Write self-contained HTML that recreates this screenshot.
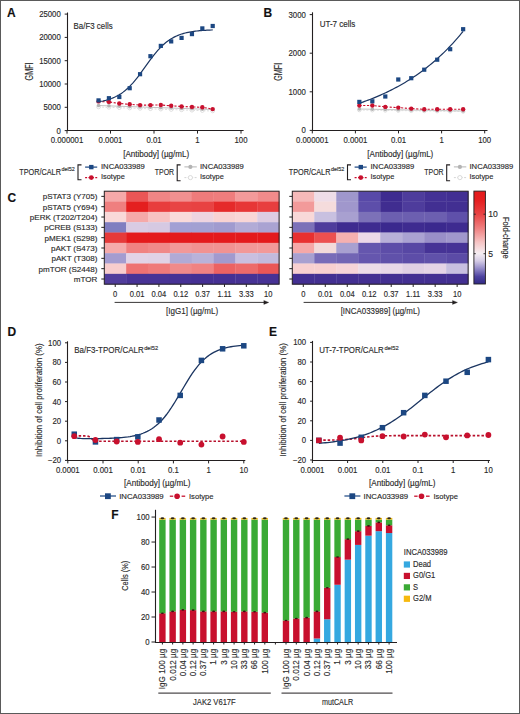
<!DOCTYPE html>
<html><head><meta charset="utf-8"><style>
html,body{margin:0;padding:0;background:#fff;overflow:hidden;}
svg{display:block;}
text{font-family:"Liberation Sans", sans-serif;stroke:#2a2a2a;stroke-width:0.14px;}
</style></head><body>
<svg width="520" height="714" viewBox="0 0 520 714" fill="#2a2a2a">
<rect x="0.5" y="0.5" width="519" height="713" fill="#fff" stroke="#5a5a5a" stroke-width="1"/>
<text x="7.00" y="16.80" font-size="12" font-weight="bold" fill="#111">A</text>
<line x1="67.50" y1="12.50" x2="67.50" y2="131.00" stroke="#231f20" stroke-width="1.1"/>
<line x1="67.00" y1="130.50" x2="243.60" y2="130.50" stroke="#231f20" stroke-width="1.1"/>
<line x1="64.70" y1="130.60" x2="67.50" y2="130.60" stroke="#231f20" stroke-width="1"/>
<text x="60.80" y="133.50" font-size="8.2" text-anchor="end" textLength="4.33" lengthAdjust="spacingAndGlyphs">0</text>
<line x1="64.70" y1="107.30" x2="67.50" y2="107.30" stroke="#231f20" stroke-width="1"/>
<text x="60.80" y="110.20" font-size="8.2" text-anchor="end" textLength="17.33" lengthAdjust="spacingAndGlyphs">5000</text>
<line x1="64.70" y1="84.00" x2="67.50" y2="84.00" stroke="#231f20" stroke-width="1"/>
<text x="60.80" y="86.90" font-size="8.2" text-anchor="end" textLength="21.66" lengthAdjust="spacingAndGlyphs">10000</text>
<line x1="64.70" y1="60.70" x2="67.50" y2="60.70" stroke="#231f20" stroke-width="1"/>
<text x="60.80" y="63.60" font-size="8.2" text-anchor="end" textLength="21.66" lengthAdjust="spacingAndGlyphs">15000</text>
<line x1="64.70" y1="37.40" x2="67.50" y2="37.40" stroke="#231f20" stroke-width="1"/>
<text x="60.80" y="40.30" font-size="8.2" text-anchor="end" textLength="21.66" lengthAdjust="spacingAndGlyphs">20000</text>
<line x1="64.70" y1="14.10" x2="67.50" y2="14.10" stroke="#231f20" stroke-width="1"/>
<text x="60.80" y="17.00" font-size="8.2" text-anchor="end" textLength="21.66" lengthAdjust="spacingAndGlyphs">25000</text>
<line x1="67.00" y1="130.60" x2="67.00" y2="133.60" stroke="#231f20" stroke-width="1"/>
<text x="67.00" y="143.40" font-size="8.2" text-anchor="middle" textLength="32.49" lengthAdjust="spacingAndGlyphs">0.000001</text>
<line x1="110.50" y1="130.60" x2="110.50" y2="133.60" stroke="#231f20" stroke-width="1"/>
<text x="110.50" y="143.40" font-size="8.2" text-anchor="middle" textLength="23.82" lengthAdjust="spacingAndGlyphs">0.0001</text>
<line x1="154.00" y1="130.60" x2="154.00" y2="133.60" stroke="#231f20" stroke-width="1"/>
<text x="154.00" y="143.40" font-size="8.2" text-anchor="middle" textLength="15.16" lengthAdjust="spacingAndGlyphs">0.01</text>
<line x1="197.50" y1="130.60" x2="197.50" y2="133.60" stroke="#231f20" stroke-width="1"/>
<text x="197.50" y="143.40" font-size="8.2" text-anchor="middle" textLength="4.33" lengthAdjust="spacingAndGlyphs">1</text>
<line x1="241.00" y1="130.60" x2="241.00" y2="133.60" stroke="#231f20" stroke-width="1"/>
<text x="241.00" y="143.40" font-size="8.2" text-anchor="middle" textLength="13.00" lengthAdjust="spacingAndGlyphs">100</text>
<text x="156.20" y="156.90" font-size="8.6" text-anchor="middle" textLength="66.00" lengthAdjust="spacingAndGlyphs">[Antibody] (µg/mL)</text>
<text x="33.30" y="71.40" font-size="10" text-anchor="middle" textLength="18.00" lengthAdjust="spacingAndGlyphs" transform="rotate(-90 33.30 71.40)">GMFI</text>
<text x="73.60" y="29.30" font-size="9.0" textLength="39.00" lengthAdjust="spacingAndGlyphs">Ba/F3 cells</text>
<path d="M98.55,105.50 L108.93,105.86 L119.31,106.23 L129.68,106.59 L140.06,106.95 L150.44,107.32 L160.82,107.68 L171.19,108.05 L181.57,108.41 L191.95,108.77 L202.33,109.14 L212.70,109.50" stroke="#b4b4b4" stroke-width="0.8" fill="none"/>
<path d="M98.55,107.00 L108.93,107.36 L119.31,107.73 L129.68,108.09 L140.06,108.45 L150.44,108.82 L160.82,109.18 L171.19,109.55 L181.57,109.91 L191.95,110.27 L202.33,110.64 L212.70,111.00" stroke="#d6d6d6" stroke-width="0.8" fill="none" stroke-dasharray="2,1.5"/>
<circle cx="98.55" cy="107.00" r="1.80" fill="#fff" stroke="#d6d6d6" stroke-width="0.8"/>
<circle cx="108.93" cy="107.36" r="1.80" fill="#fff" stroke="#d6d6d6" stroke-width="0.8"/>
<circle cx="119.31" cy="107.73" r="1.80" fill="#fff" stroke="#d6d6d6" stroke-width="0.8"/>
<circle cx="129.68" cy="108.09" r="1.80" fill="#fff" stroke="#d6d6d6" stroke-width="0.8"/>
<circle cx="140.06" cy="108.45" r="1.80" fill="#fff" stroke="#d6d6d6" stroke-width="0.8"/>
<circle cx="150.44" cy="108.82" r="1.80" fill="#fff" stroke="#d6d6d6" stroke-width="0.8"/>
<circle cx="160.82" cy="109.18" r="1.80" fill="#fff" stroke="#d6d6d6" stroke-width="0.8"/>
<circle cx="171.19" cy="109.55" r="1.80" fill="#fff" stroke="#d6d6d6" stroke-width="0.8"/>
<circle cx="181.57" cy="109.91" r="1.80" fill="#fff" stroke="#d6d6d6" stroke-width="0.8"/>
<circle cx="191.95" cy="110.27" r="1.80" fill="#fff" stroke="#d6d6d6" stroke-width="0.8"/>
<circle cx="202.33" cy="110.64" r="1.80" fill="#fff" stroke="#d6d6d6" stroke-width="0.8"/>
<circle cx="212.70" cy="111.00" r="1.80" fill="#fff" stroke="#d6d6d6" stroke-width="0.8"/>
<circle cx="98.55" cy="105.50" r="1.80" fill="#b4b4b4"/>
<circle cx="108.93" cy="105.86" r="1.80" fill="#b4b4b4"/>
<circle cx="119.31" cy="106.23" r="1.80" fill="#b4b4b4"/>
<circle cx="129.68" cy="106.59" r="1.80" fill="#b4b4b4"/>
<circle cx="140.06" cy="106.95" r="1.80" fill="#b4b4b4"/>
<circle cx="150.44" cy="107.32" r="1.80" fill="#b4b4b4"/>
<circle cx="160.82" cy="107.68" r="1.80" fill="#b4b4b4"/>
<circle cx="171.19" cy="108.05" r="1.80" fill="#b4b4b4"/>
<circle cx="181.57" cy="108.41" r="1.80" fill="#b4b4b4"/>
<circle cx="191.95" cy="108.77" r="1.80" fill="#b4b4b4"/>
<circle cx="202.33" cy="109.14" r="1.80" fill="#b4b4b4"/>
<circle cx="212.70" cy="109.50" r="1.80" fill="#b4b4b4"/>
<path d="M98.55,101.40 L108.93,101.90 L119.31,103.50 L129.68,104.30 L140.06,105.10 L150.44,105.10 L160.82,105.00 L171.19,105.80 L181.57,106.50 L191.95,106.90 L202.33,107.30 L212.70,109.10" stroke="#c8102e" stroke-width="1.1" fill="none" stroke-dasharray="2.2,1.6"/>
<circle cx="98.55" cy="101.40" r="2.20" fill="#c8102e"/>
<circle cx="108.93" cy="101.90" r="2.20" fill="#c8102e"/>
<circle cx="119.31" cy="103.50" r="2.20" fill="#c8102e"/>
<circle cx="129.68" cy="104.30" r="2.20" fill="#c8102e"/>
<circle cx="140.06" cy="105.10" r="2.20" fill="#c8102e"/>
<circle cx="150.44" cy="105.10" r="2.20" fill="#c8102e"/>
<circle cx="160.82" cy="105.00" r="2.20" fill="#c8102e"/>
<circle cx="171.19" cy="105.80" r="2.20" fill="#c8102e"/>
<circle cx="181.57" cy="106.50" r="2.20" fill="#c8102e"/>
<circle cx="191.95" cy="106.90" r="2.20" fill="#c8102e"/>
<circle cx="202.33" cy="107.30" r="2.20" fill="#c8102e"/>
<circle cx="212.70" cy="109.10" r="2.20" fill="#c8102e"/>
<path d="M98.55,101.77 L100.00,101.53 L101.44,101.27 L102.89,100.98 L104.33,100.65 L105.78,100.30 L107.22,99.91 L108.67,99.47 L110.11,99.00 L111.56,98.47 L113.00,97.90 L114.45,97.27 L115.89,96.58 L117.34,95.83 L118.78,95.02 L120.23,94.13 L121.67,93.17 L123.12,92.13 L124.56,91.01 L126.01,89.81 L127.45,88.52 L128.90,87.15 L130.34,85.70 L131.79,84.16 L133.23,82.55 L134.68,80.85 L136.12,79.09 L137.57,77.26 L139.01,75.37 L140.45,73.44 L141.90,71.46 L143.34,69.46 L144.79,67.44 L146.23,65.42 L147.68,63.40 L149.12,61.41 L150.57,59.44 L152.01,57.52 L153.46,55.64 L154.90,53.83 L156.35,52.08 L157.79,50.41 L159.24,48.81 L160.68,47.30 L162.13,45.87 L163.57,44.52 L165.02,43.26 L166.46,42.08 L167.91,40.98 L169.35,39.96 L170.80,39.02 L172.24,38.15 L173.69,37.36 L175.13,36.62 L176.58,35.95 L178.02,35.34 L179.47,34.78 L180.91,34.27 L182.36,33.80 L183.80,33.38 L185.25,33.00 L186.69,32.65 L188.14,32.34 L189.58,32.05 L191.03,31.80 L192.47,31.57 L193.92,31.36 L195.36,31.17 L196.81,31.00 L198.25,30.84 L199.70,30.71 L201.14,30.58 L202.59,30.47 L204.03,30.37 L205.48,30.28 L206.92,30.20 L208.37,30.13 L209.81,30.06 L211.26,30.00 L212.70,29.95" stroke="#1b3561" stroke-width="1.2" fill="none"/>
<rect x="96.45" y="98.30" width="4.20" height="4.20" fill="#1c4782"/>
<rect x="106.83" y="96.10" width="4.20" height="4.20" fill="#1c4782"/>
<rect x="117.21" y="94.90" width="4.20" height="4.20" fill="#1c4782"/>
<rect x="127.58" y="86.10" width="4.20" height="4.20" fill="#1c4782"/>
<rect x="137.96" y="72.10" width="4.20" height="4.20" fill="#1c4782"/>
<rect x="148.34" y="54.10" width="4.20" height="4.20" fill="#1c4782"/>
<rect x="158.72" y="43.80" width="4.20" height="4.20" fill="#1c4782"/>
<rect x="169.09" y="39.30" width="4.20" height="4.20" fill="#1c4782"/>
<rect x="179.47" y="35.80" width="4.20" height="4.20" fill="#1c4782"/>
<rect x="189.85" y="32.00" width="4.20" height="4.20" fill="#1c4782"/>
<rect x="200.23" y="26.30" width="4.20" height="4.20" fill="#1c4782"/>
<rect x="210.60" y="23.90" width="4.20" height="4.20" fill="#1c4782"/>
<text x="19.30" y="175.30" font-size="8.7" textLength="41.60" lengthAdjust="spacingAndGlyphs">TPOR/CALR</text>
<text x="61.40" y="171.20" font-size="5.5" textLength="13.30" lengthAdjust="spacingAndGlyphs">del52</text>
<path d="M81.50,164.9 L78.00,164.9 L78.00,179.7 L81.50,179.7" stroke="#231f20" stroke-width="1.1" fill="none"/>
<line x1="85.10" y1="167.10" x2="97.20" y2="167.10" stroke="#1c4782" stroke-width="1.2"/>
<rect x="89.10" y="164.90" width="4.40" height="4.40" fill="#1c4782"/>
<line x1="85.10" y1="177.60" x2="97.20" y2="177.60" stroke="#c8102e" stroke-width="1.1" stroke-dasharray="2,1.4"/>
<circle cx="91.30" cy="177.60" r="2.40" fill="#c8102e"/>
<text x="101.00" y="169.10" font-size="7.6" textLength="43.70" lengthAdjust="spacingAndGlyphs">INCA033989</text>
<text x="101.00" y="179.20" font-size="7.6" textLength="23.80" lengthAdjust="spacingAndGlyphs">Isotype</text>
<text x="154.80" y="175.20" font-size="8.5" textLength="19.30" lengthAdjust="spacingAndGlyphs">TPOR</text>
<path d="M180.60,164.9 L177.20,164.9 L177.20,180.7 L180.60,180.7" stroke="#231f20" stroke-width="1.1" fill="none"/>
<line x1="184.40" y1="166.90" x2="196.80" y2="166.90" stroke="#b4b4b4" stroke-width="1.0"/>
<circle cx="190.40" cy="166.90" r="2.10" fill="#b4b4b4"/>
<line x1="184.40" y1="177.60" x2="196.80" y2="177.60" stroke="#d6d6d6" stroke-width="1.0" stroke-dasharray="2,1.4"/>
<circle cx="190.40" cy="177.60" r="2.10" fill="#fff" stroke="#d6d6d6" stroke-width="0.9"/>
<text x="200.00" y="169.10" font-size="7.6" textLength="43.70" lengthAdjust="spacingAndGlyphs">INCA033989</text>
<text x="200.00" y="179.20" font-size="7.6" textLength="23.80" lengthAdjust="spacingAndGlyphs">Isotype</text>
<text x="263.50" y="16.80" font-size="12" font-weight="bold" fill="#111">B</text>
<line x1="312.50" y1="12.30" x2="312.50" y2="131.00" stroke="#231f20" stroke-width="1.1"/>
<line x1="312.00" y1="130.50" x2="487.50" y2="130.50" stroke="#231f20" stroke-width="1.1"/>
<line x1="309.70" y1="130.40" x2="312.50" y2="130.40" stroke="#231f20" stroke-width="1"/>
<text x="305.80" y="133.30" font-size="8.2" text-anchor="end" textLength="4.33" lengthAdjust="spacingAndGlyphs">0</text>
<line x1="309.70" y1="91.80" x2="312.50" y2="91.80" stroke="#231f20" stroke-width="1"/>
<text x="305.80" y="94.70" font-size="8.2" text-anchor="end" textLength="17.33" lengthAdjust="spacingAndGlyphs">1000</text>
<line x1="309.70" y1="53.20" x2="312.50" y2="53.20" stroke="#231f20" stroke-width="1"/>
<text x="305.80" y="56.10" font-size="8.2" text-anchor="end" textLength="17.33" lengthAdjust="spacingAndGlyphs">2000</text>
<line x1="309.70" y1="14.60" x2="312.50" y2="14.60" stroke="#231f20" stroke-width="1"/>
<text x="305.80" y="17.50" font-size="8.2" text-anchor="end" textLength="17.33" lengthAdjust="spacingAndGlyphs">3000</text>
<line x1="312.30" y1="130.40" x2="312.30" y2="133.40" stroke="#231f20" stroke-width="1"/>
<text x="312.30" y="143.40" font-size="8.2" text-anchor="middle" textLength="32.49" lengthAdjust="spacingAndGlyphs">0.000001</text>
<line x1="355.40" y1="130.40" x2="355.40" y2="133.40" stroke="#231f20" stroke-width="1"/>
<text x="355.40" y="143.40" font-size="8.2" text-anchor="middle" textLength="23.82" lengthAdjust="spacingAndGlyphs">0.0001</text>
<line x1="398.50" y1="130.40" x2="398.50" y2="133.40" stroke="#231f20" stroke-width="1"/>
<text x="398.50" y="143.40" font-size="8.2" text-anchor="middle" textLength="15.16" lengthAdjust="spacingAndGlyphs">0.01</text>
<line x1="441.60" y1="130.40" x2="441.60" y2="133.40" stroke="#231f20" stroke-width="1"/>
<text x="441.60" y="143.40" font-size="8.2" text-anchor="middle" textLength="4.33" lengthAdjust="spacingAndGlyphs">1</text>
<line x1="484.70" y1="130.40" x2="484.70" y2="133.40" stroke="#231f20" stroke-width="1"/>
<text x="484.70" y="143.40" font-size="8.2" text-anchor="middle" textLength="13.00" lengthAdjust="spacingAndGlyphs">100</text>
<text x="400.30" y="156.90" font-size="8.6" text-anchor="middle" textLength="66.00" lengthAdjust="spacingAndGlyphs">[Antibody] (µg/mL)</text>
<text x="282.40" y="71.80" font-size="10" text-anchor="middle" textLength="18.00" lengthAdjust="spacingAndGlyphs" transform="rotate(-90 282.40 71.80)">GMFI</text>
<text x="319.70" y="26.50" font-size="9.0" textLength="35.70" lengthAdjust="spacingAndGlyphs">UT-7 cells</text>
<path d="M359.35,109.00 L372.33,109.25 L385.30,109.50 L398.28,109.75 L411.25,110.00 L424.23,110.25 L437.20,110.50 L450.18,110.75 L463.15,111.00" stroke="#b4b4b4" stroke-width="0.8" fill="none"/>
<path d="M359.35,110.00 L372.33,110.19 L385.30,110.38 L398.28,110.56 L411.25,110.75 L424.23,110.94 L437.20,111.12 L450.18,111.31 L463.15,111.50" stroke="#d6d6d6" stroke-width="0.8" fill="none" stroke-dasharray="2,1.5"/>
<circle cx="359.35" cy="110.00" r="1.80" fill="#fff" stroke="#d6d6d6" stroke-width="0.8"/>
<circle cx="372.33" cy="110.19" r="1.80" fill="#fff" stroke="#d6d6d6" stroke-width="0.8"/>
<circle cx="385.30" cy="110.38" r="1.80" fill="#fff" stroke="#d6d6d6" stroke-width="0.8"/>
<circle cx="398.28" cy="110.56" r="1.80" fill="#fff" stroke="#d6d6d6" stroke-width="0.8"/>
<circle cx="411.25" cy="110.75" r="1.80" fill="#fff" stroke="#d6d6d6" stroke-width="0.8"/>
<circle cx="424.23" cy="110.94" r="1.80" fill="#fff" stroke="#d6d6d6" stroke-width="0.8"/>
<circle cx="437.20" cy="111.12" r="1.80" fill="#fff" stroke="#d6d6d6" stroke-width="0.8"/>
<circle cx="450.18" cy="111.31" r="1.80" fill="#fff" stroke="#d6d6d6" stroke-width="0.8"/>
<circle cx="463.15" cy="111.50" r="1.80" fill="#fff" stroke="#d6d6d6" stroke-width="0.8"/>
<circle cx="359.35" cy="109.00" r="1.80" fill="#b4b4b4"/>
<circle cx="372.33" cy="109.25" r="1.80" fill="#b4b4b4"/>
<circle cx="385.30" cy="109.50" r="1.80" fill="#b4b4b4"/>
<circle cx="398.28" cy="109.75" r="1.80" fill="#b4b4b4"/>
<circle cx="411.25" cy="110.00" r="1.80" fill="#b4b4b4"/>
<circle cx="424.23" cy="110.25" r="1.80" fill="#b4b4b4"/>
<circle cx="437.20" cy="110.50" r="1.80" fill="#b4b4b4"/>
<circle cx="450.18" cy="110.75" r="1.80" fill="#b4b4b4"/>
<circle cx="463.15" cy="111.00" r="1.80" fill="#b4b4b4"/>
<path d="M359.35,105.50 L372.33,105.50 L385.30,106.90 L398.28,107.60 L411.25,108.60 L424.23,109.30 L437.20,109.30 L450.18,109.30 L463.15,109.30" stroke="#c8102e" stroke-width="1.1" fill="none" stroke-dasharray="2.2,1.6"/>
<circle cx="359.35" cy="105.50" r="2.20" fill="#c8102e"/>
<circle cx="372.33" cy="105.50" r="2.20" fill="#c8102e"/>
<circle cx="385.30" cy="106.90" r="2.20" fill="#c8102e"/>
<circle cx="398.28" cy="107.60" r="2.20" fill="#c8102e"/>
<circle cx="411.25" cy="108.60" r="2.20" fill="#c8102e"/>
<circle cx="424.23" cy="109.30" r="2.20" fill="#c8102e"/>
<circle cx="437.20" cy="109.30" r="2.20" fill="#c8102e"/>
<circle cx="450.18" cy="109.30" r="2.20" fill="#c8102e"/>
<circle cx="463.15" cy="109.30" r="2.20" fill="#c8102e"/>
<path d="M359.35,103.27 L361.11,102.67 L362.87,102.06 L364.63,101.43 L366.39,100.78 L368.15,100.13 L369.91,99.45 L371.67,98.77 L373.43,98.07 L375.19,97.35 L376.95,96.62 L378.71,95.87 L380.47,95.10 L382.22,94.32 L383.98,93.51 L385.74,92.70 L387.50,91.86 L389.26,91.00 L391.02,90.13 L392.78,89.24 L394.54,88.32 L396.30,87.39 L398.06,86.43 L399.82,85.46 L401.58,84.46 L403.34,83.44 L405.10,82.40 L406.85,81.33 L408.61,80.24 L410.37,79.13 L412.13,77.99 L413.89,76.83 L415.65,75.64 L417.41,74.42 L419.17,73.18 L420.93,71.91 L422.69,70.61 L424.45,69.28 L426.21,67.93 L427.97,66.54 L429.72,65.12 L431.48,63.67 L433.24,62.19 L435.00,60.68 L436.76,59.13 L438.52,57.55 L440.28,55.93 L442.04,54.27 L443.80,52.58 L445.56,50.86 L447.32,49.09 L449.08,47.28 L450.84,45.44 L452.59,43.55 L454.35,41.62 L456.11,39.65 L457.87,37.64 L459.63,35.58 L461.39,33.47 L463.15,31.32" stroke="#1b3561" stroke-width="1.2" fill="none"/>
<rect x="357.25" y="99.80" width="4.20" height="4.20" fill="#1c4782"/>
<rect x="370.23" y="99.20" width="4.20" height="4.20" fill="#1c4782"/>
<rect x="383.20" y="94.40" width="4.20" height="4.20" fill="#1c4782"/>
<rect x="396.18" y="77.40" width="4.20" height="4.20" fill="#1c4782"/>
<rect x="409.15" y="76.10" width="4.20" height="4.20" fill="#1c4782"/>
<rect x="422.13" y="67.60" width="4.20" height="4.20" fill="#1c4782"/>
<rect x="435.10" y="57.60" width="4.20" height="4.20" fill="#1c4782"/>
<rect x="448.08" y="47.10" width="4.20" height="4.20" fill="#1c4782"/>
<rect x="461.05" y="27.10" width="4.20" height="4.20" fill="#1c4782"/>
<text x="288.80" y="175.30" font-size="8.7" textLength="41.60" lengthAdjust="spacingAndGlyphs">TPOR/CALR</text>
<text x="330.90" y="171.20" font-size="5.5" textLength="13.30" lengthAdjust="spacingAndGlyphs">del52</text>
<path d="M351.00,164.9 L347.50,164.9 L347.50,179.7 L351.00,179.7" stroke="#231f20" stroke-width="1.1" fill="none"/>
<line x1="354.60" y1="167.10" x2="366.70" y2="167.10" stroke="#1c4782" stroke-width="1.2"/>
<rect x="358.60" y="164.90" width="4.40" height="4.40" fill="#1c4782"/>
<line x1="354.60" y1="177.60" x2="366.70" y2="177.60" stroke="#c8102e" stroke-width="1.1" stroke-dasharray="2,1.4"/>
<circle cx="360.80" cy="177.60" r="2.40" fill="#c8102e"/>
<text x="370.50" y="169.10" font-size="7.6" textLength="43.70" lengthAdjust="spacingAndGlyphs">INCA033989</text>
<text x="370.50" y="179.20" font-size="7.6" textLength="23.80" lengthAdjust="spacingAndGlyphs">Isotype</text>
<text x="424.30" y="175.20" font-size="8.5" textLength="19.30" lengthAdjust="spacingAndGlyphs">TPOR</text>
<path d="M450.10,164.9 L446.70,164.9 L446.70,180.7 L450.10,180.7" stroke="#231f20" stroke-width="1.1" fill="none"/>
<line x1="453.90" y1="166.90" x2="466.30" y2="166.90" stroke="#b4b4b4" stroke-width="1.0"/>
<circle cx="459.90" cy="166.90" r="2.10" fill="#b4b4b4"/>
<line x1="453.90" y1="177.60" x2="466.30" y2="177.60" stroke="#d6d6d6" stroke-width="1.0" stroke-dasharray="2,1.4"/>
<circle cx="459.90" cy="177.60" r="2.10" fill="#fff" stroke="#d6d6d6" stroke-width="0.9"/>
<text x="469.50" y="169.10" font-size="7.6" textLength="43.70" lengthAdjust="spacingAndGlyphs">INCA033989</text>
<text x="469.50" y="179.20" font-size="7.6" textLength="23.80" lengthAdjust="spacingAndGlyphs">Isotype</text>
<text x="7.50" y="202.20" font-size="12" font-weight="bold" fill="#111">C</text>
<text x="97.40" y="199.26" font-size="8.05" text-anchor="end">pSTAT3 (Y705)</text>
<text x="97.40" y="209.59" font-size="8.05" text-anchor="end">pSTAT5 (Y694)</text>
<text x="97.40" y="219.92" font-size="8.05" text-anchor="end">pERK (T202/T204)</text>
<text x="97.40" y="230.25" font-size="8.05" text-anchor="end">pCREB (S133)</text>
<text x="97.40" y="240.59" font-size="8.05" text-anchor="end">pMEK1 (S298)</text>
<text x="97.40" y="250.91" font-size="8.05" text-anchor="end">pAKT (S473)</text>
<text x="97.40" y="261.24" font-size="8.05" text-anchor="end">pAKT (T308)</text>
<text x="97.40" y="271.57" font-size="8.05" text-anchor="end">pmTOR (S2448)</text>
<text x="97.40" y="281.90" font-size="8.05" text-anchor="end">mTOR</text>
<rect x="104.30" y="191.20" width="22.15" height="10.63" fill="#f5a9a9"/>
<rect x="126.15" y="191.20" width="22.15" height="10.63" fill="#ea5656"/>
<rect x="148.00" y="191.20" width="22.15" height="10.63" fill="#f08585"/>
<rect x="169.85" y="191.20" width="22.15" height="10.63" fill="#f19090"/>
<rect x="191.70" y="191.20" width="22.15" height="10.63" fill="#ee7b7b"/>
<rect x="213.55" y="191.20" width="22.15" height="10.63" fill="#ef7d7d"/>
<rect x="235.40" y="191.20" width="22.15" height="10.63" fill="#f39a9a"/>
<rect x="257.25" y="191.20" width="22.15" height="10.63" fill="#f18b8b"/>
<rect x="104.30" y="201.53" width="22.15" height="10.63" fill="#ef7f7f"/>
<rect x="126.15" y="201.53" width="22.15" height="10.63" fill="#e41f1f"/>
<rect x="148.00" y="201.53" width="22.15" height="10.63" fill="#e83d3d"/>
<rect x="169.85" y="201.53" width="22.15" height="10.63" fill="#e84444"/>
<rect x="191.70" y="201.53" width="22.15" height="10.63" fill="#e84242"/>
<rect x="213.55" y="201.53" width="22.15" height="10.63" fill="#e52a2a"/>
<rect x="235.40" y="201.53" width="22.15" height="10.63" fill="#e73636"/>
<rect x="257.25" y="201.53" width="22.15" height="10.63" fill="#e83e3e"/>
<rect x="104.30" y="211.86" width="22.15" height="10.63" fill="#f9d9d9"/>
<rect x="126.15" y="211.86" width="22.15" height="10.63" fill="#f5a9a9"/>
<rect x="148.00" y="211.86" width="22.15" height="10.63" fill="#f7c2c2"/>
<rect x="169.85" y="211.86" width="22.15" height="10.63" fill="#f9dada"/>
<rect x="191.70" y="211.86" width="22.15" height="10.63" fill="#eed4e0"/>
<rect x="213.55" y="211.86" width="22.15" height="10.63" fill="#f8d2d2"/>
<rect x="235.40" y="211.86" width="22.15" height="10.63" fill="#f9d6d6"/>
<rect x="257.25" y="211.86" width="22.15" height="10.63" fill="#ddcce2"/>
<rect x="104.30" y="222.19" width="22.15" height="10.63" fill="#807ec0"/>
<rect x="126.15" y="222.19" width="22.15" height="10.63" fill="#d9cbe3"/>
<rect x="148.00" y="222.19" width="22.15" height="10.63" fill="#d6c9e2"/>
<rect x="169.85" y="222.19" width="22.15" height="10.63" fill="#a2a0d4"/>
<rect x="191.70" y="222.19" width="22.15" height="10.63" fill="#a2a0d2"/>
<rect x="213.55" y="222.19" width="22.15" height="10.63" fill="#a09bcf"/>
<rect x="235.40" y="222.19" width="22.15" height="10.63" fill="#b2abd6"/>
<rect x="257.25" y="222.19" width="22.15" height="10.63" fill="#aaa3d2"/>
<rect x="104.30" y="232.52" width="22.15" height="10.63" fill="#e63a3a"/>
<rect x="126.15" y="232.52" width="22.15" height="10.63" fill="#e41a1c"/>
<rect x="148.00" y="232.52" width="22.15" height="10.63" fill="#e41a1c"/>
<rect x="169.85" y="232.52" width="22.15" height="10.63" fill="#e41a1c"/>
<rect x="191.70" y="232.52" width="22.15" height="10.63" fill="#e41a1c"/>
<rect x="213.55" y="232.52" width="22.15" height="10.63" fill="#e41a1c"/>
<rect x="235.40" y="232.52" width="22.15" height="10.63" fill="#e41a1c"/>
<rect x="257.25" y="232.52" width="22.15" height="10.63" fill="#e41a1c"/>
<rect x="104.30" y="242.85" width="22.15" height="10.63" fill="#f5aaaa"/>
<rect x="126.15" y="242.85" width="22.15" height="10.63" fill="#f08282"/>
<rect x="148.00" y="242.85" width="22.15" height="10.63" fill="#f08989"/>
<rect x="169.85" y="242.85" width="22.15" height="10.63" fill="#f29898"/>
<rect x="191.70" y="242.85" width="22.15" height="10.63" fill="#f19292"/>
<rect x="213.55" y="242.85" width="22.15" height="10.63" fill="#f19292"/>
<rect x="235.40" y="242.85" width="22.15" height="10.63" fill="#f29898"/>
<rect x="257.25" y="242.85" width="22.15" height="10.63" fill="#f29999"/>
<rect x="104.30" y="253.18" width="22.15" height="10.63" fill="#a49cd0"/>
<rect x="126.15" y="253.18" width="22.15" height="10.63" fill="#e2d3e7"/>
<rect x="148.00" y="253.18" width="22.15" height="10.63" fill="#e0d2e6"/>
<rect x="169.85" y="253.18" width="22.15" height="10.63" fill="#b1aad5"/>
<rect x="191.70" y="253.18" width="22.15" height="10.63" fill="#b9b2d9"/>
<rect x="213.55" y="253.18" width="22.15" height="10.63" fill="#a29ace"/>
<rect x="235.40" y="253.18" width="22.15" height="10.63" fill="#c9bfe0"/>
<rect x="257.25" y="253.18" width="22.15" height="10.63" fill="#c2badd"/>
<rect x="104.30" y="263.51" width="22.15" height="10.63" fill="#f8cdcd"/>
<rect x="126.15" y="263.51" width="22.15" height="10.63" fill="#ee7272"/>
<rect x="148.00" y="263.51" width="22.15" height="10.63" fill="#ef7a7a"/>
<rect x="169.85" y="263.51" width="22.15" height="10.63" fill="#f08a8a"/>
<rect x="191.70" y="263.51" width="22.15" height="10.63" fill="#f08282"/>
<rect x="213.55" y="263.51" width="22.15" height="10.63" fill="#ec6262"/>
<rect x="235.40" y="263.51" width="22.15" height="10.63" fill="#ed6a6a"/>
<rect x="257.25" y="263.51" width="22.15" height="10.63" fill="#ea5656"/>
<rect x="104.30" y="273.84" width="22.15" height="10.63" fill="#513d9c"/>
<rect x="126.15" y="273.84" width="22.15" height="10.63" fill="#483396"/>
<rect x="148.00" y="273.84" width="22.15" height="10.63" fill="#483396"/>
<rect x="169.85" y="273.84" width="22.15" height="10.63" fill="#473295"/>
<rect x="191.70" y="273.84" width="22.15" height="10.63" fill="#453094"/>
<rect x="213.55" y="273.84" width="22.15" height="10.63" fill="#453094"/>
<rect x="235.40" y="273.84" width="22.15" height="10.63" fill="#473295"/>
<rect x="257.25" y="273.84" width="22.15" height="10.63" fill="#473295"/>
<rect x="104.30" y="191.20" width="174.80" height="92.97" fill="none" stroke="#231f20" stroke-width="1"/>
<line x1="101.30" y1="196.36" x2="104.30" y2="196.36" stroke="#231f20" stroke-width="1"/>
<line x1="101.30" y1="206.69" x2="104.30" y2="206.69" stroke="#231f20" stroke-width="1"/>
<line x1="101.30" y1="217.02" x2="104.30" y2="217.02" stroke="#231f20" stroke-width="1"/>
<line x1="101.30" y1="227.35" x2="104.30" y2="227.35" stroke="#231f20" stroke-width="1"/>
<line x1="101.30" y1="237.69" x2="104.30" y2="237.69" stroke="#231f20" stroke-width="1"/>
<line x1="101.30" y1="248.01" x2="104.30" y2="248.01" stroke="#231f20" stroke-width="1"/>
<line x1="101.30" y1="258.34" x2="104.30" y2="258.34" stroke="#231f20" stroke-width="1"/>
<line x1="101.30" y1="268.67" x2="104.30" y2="268.67" stroke="#231f20" stroke-width="1"/>
<line x1="101.30" y1="279.00" x2="104.30" y2="279.00" stroke="#231f20" stroke-width="1"/>
<line x1="115.22" y1="284.17" x2="115.22" y2="286.97" stroke="#231f20" stroke-width="1"/>
<text x="115.22" y="297.30" font-size="8.3" text-anchor="middle" textLength="4.20" lengthAdjust="spacingAndGlyphs">0</text>
<line x1="137.07" y1="284.17" x2="137.07" y2="286.97" stroke="#231f20" stroke-width="1"/>
<text x="137.07" y="297.30" font-size="8.3" text-anchor="middle" textLength="14.70" lengthAdjust="spacingAndGlyphs">0.01</text>
<line x1="158.93" y1="284.17" x2="158.93" y2="286.97" stroke="#231f20" stroke-width="1"/>
<text x="158.93" y="297.30" font-size="8.3" text-anchor="middle" textLength="14.70" lengthAdjust="spacingAndGlyphs">0.04</text>
<line x1="180.78" y1="284.17" x2="180.78" y2="286.97" stroke="#231f20" stroke-width="1"/>
<text x="180.78" y="297.30" font-size="8.3" text-anchor="middle" textLength="14.70" lengthAdjust="spacingAndGlyphs">0.12</text>
<line x1="202.62" y1="284.17" x2="202.62" y2="286.97" stroke="#231f20" stroke-width="1"/>
<text x="202.62" y="297.30" font-size="8.3" text-anchor="middle" textLength="14.70" lengthAdjust="spacingAndGlyphs">0.37</text>
<line x1="224.48" y1="284.17" x2="224.48" y2="286.97" stroke="#231f20" stroke-width="1"/>
<text x="224.48" y="297.30" font-size="8.3" text-anchor="middle" textLength="14.14" lengthAdjust="spacingAndGlyphs">1.11</text>
<line x1="246.32" y1="284.17" x2="246.32" y2="286.97" stroke="#231f20" stroke-width="1"/>
<text x="246.32" y="297.30" font-size="8.3" text-anchor="middle" textLength="14.70" lengthAdjust="spacingAndGlyphs">3.33</text>
<line x1="268.18" y1="284.17" x2="268.18" y2="286.97" stroke="#231f20" stroke-width="1"/>
<text x="268.18" y="297.30" font-size="8.3" text-anchor="middle" textLength="8.40" lengthAdjust="spacingAndGlyphs">10</text>
<line x1="114.60" y1="302.40" x2="265.80" y2="302.40" stroke="#231f20" stroke-width="0.9"/>
<path d="M268.80,302.4 L263.80,300.4 L263.80,304.4 Z" stroke="#231f20" stroke-width="0.3" fill="#231f20"/>
<text x="192.10" y="314.20" font-size="9.4" text-anchor="middle" textLength="52.00" lengthAdjust="spacingAndGlyphs">[IgG1] (µg/mL)</text>
<rect x="292.30" y="191.20" width="22.28" height="10.63" fill="#f5b9b9"/>
<rect x="314.28" y="191.20" width="22.28" height="10.63" fill="#eedde8"/>
<rect x="336.26" y="191.20" width="22.28" height="10.63" fill="#9f97cc"/>
<rect x="358.24" y="191.20" width="22.28" height="10.63" fill="#5849a8"/>
<rect x="380.22" y="191.20" width="22.28" height="10.63" fill="#3e2b90"/>
<rect x="402.20" y="191.20" width="22.28" height="10.63" fill="#4e3c9c"/>
<rect x="424.18" y="191.20" width="22.28" height="10.63" fill="#443195"/>
<rect x="446.16" y="191.20" width="22.28" height="10.63" fill="#422f93"/>
<rect x="292.30" y="201.53" width="22.28" height="10.63" fill="#f29a9a"/>
<rect x="314.28" y="201.53" width="22.28" height="10.63" fill="#f5dcdc"/>
<rect x="336.26" y="201.53" width="22.28" height="10.63" fill="#a097cc"/>
<rect x="358.24" y="201.53" width="22.28" height="10.63" fill="#5d4eaa"/>
<rect x="380.22" y="201.53" width="22.28" height="10.63" fill="#402d90"/>
<rect x="402.20" y="201.53" width="22.28" height="10.63" fill="#4e3c9c"/>
<rect x="424.18" y="201.53" width="22.28" height="10.63" fill="#422f92"/>
<rect x="446.16" y="201.53" width="22.28" height="10.63" fill="#422f92"/>
<rect x="292.30" y="211.86" width="22.28" height="10.63" fill="#f8d8d8"/>
<rect x="314.28" y="211.86" width="22.28" height="10.63" fill="#c8c0e0"/>
<rect x="336.26" y="211.86" width="22.28" height="10.63" fill="#a8a0d0"/>
<rect x="358.24" y="211.86" width="22.28" height="10.63" fill="#7c71b8"/>
<rect x="380.22" y="211.86" width="22.28" height="10.63" fill="#6c5fb0"/>
<rect x="402.20" y="211.86" width="22.28" height="10.63" fill="#6c5fb0"/>
<rect x="424.18" y="211.86" width="22.28" height="10.63" fill="#6c5fb0"/>
<rect x="446.16" y="211.86" width="22.28" height="10.63" fill="#5f50aa"/>
<rect x="292.30" y="222.19" width="22.28" height="10.63" fill="#7c71b8"/>
<rect x="314.28" y="222.19" width="22.28" height="10.63" fill="#4e3c9c"/>
<rect x="336.26" y="222.19" width="22.28" height="10.63" fill="#3e2b90"/>
<rect x="358.24" y="222.19" width="22.28" height="10.63" fill="#3e2b90"/>
<rect x="380.22" y="222.19" width="22.28" height="10.63" fill="#3b298e"/>
<rect x="402.20" y="222.19" width="22.28" height="10.63" fill="#3e2b90"/>
<rect x="424.18" y="222.19" width="22.28" height="10.63" fill="#3b298e"/>
<rect x="446.16" y="222.19" width="22.28" height="10.63" fill="#3e2b90"/>
<rect x="292.30" y="232.52" width="22.28" height="10.63" fill="#e83030"/>
<rect x="314.28" y="232.52" width="22.28" height="10.63" fill="#ec5050"/>
<rect x="336.26" y="232.52" width="22.28" height="10.63" fill="#f5b0b0"/>
<rect x="358.24" y="232.52" width="22.28" height="10.63" fill="#ecd8e8"/>
<rect x="380.22" y="232.52" width="22.28" height="10.63" fill="#b8b0d8"/>
<rect x="402.20" y="232.52" width="22.28" height="10.63" fill="#aaa2d2"/>
<rect x="424.18" y="232.52" width="22.28" height="10.63" fill="#998fc8"/>
<rect x="446.16" y="232.52" width="22.28" height="10.63" fill="#a097cc"/>
<rect x="292.30" y="242.85" width="22.28" height="10.63" fill="#f5a8a8"/>
<rect x="314.28" y="242.85" width="22.28" height="10.63" fill="#f2dada"/>
<rect x="336.26" y="242.85" width="22.28" height="10.63" fill="#a8a0d0"/>
<rect x="358.24" y="242.85" width="22.28" height="10.63" fill="#6556ae"/>
<rect x="380.22" y="242.85" width="22.28" height="10.63" fill="#5d4da8"/>
<rect x="402.20" y="242.85" width="22.28" height="10.63" fill="#5747a4"/>
<rect x="424.18" y="242.85" width="22.28" height="10.63" fill="#463396"/>
<rect x="446.16" y="242.85" width="22.28" height="10.63" fill="#463396"/>
<rect x="292.30" y="253.18" width="22.28" height="10.63" fill="#a8a0d0"/>
<rect x="314.28" y="253.18" width="22.28" height="10.63" fill="#786bb8"/>
<rect x="336.26" y="253.18" width="22.28" height="10.63" fill="#7265b4"/>
<rect x="358.24" y="253.18" width="22.28" height="10.63" fill="#6556ae"/>
<rect x="380.22" y="253.18" width="22.28" height="10.63" fill="#6051aa"/>
<rect x="402.20" y="253.18" width="22.28" height="10.63" fill="#5d4da8"/>
<rect x="424.18" y="253.18" width="22.28" height="10.63" fill="#6051aa"/>
<rect x="446.16" y="253.18" width="22.28" height="10.63" fill="#5b4ba6"/>
<rect x="292.30" y="263.51" width="22.28" height="10.63" fill="#f8d0d0"/>
<rect x="314.28" y="263.51" width="22.28" height="10.63" fill="#f8d0d0"/>
<rect x="336.26" y="263.51" width="22.28" height="10.63" fill="#f6d4d8"/>
<rect x="358.24" y="263.51" width="22.28" height="10.63" fill="#ecdce8"/>
<rect x="380.22" y="263.51" width="22.28" height="10.63" fill="#e8d8e8"/>
<rect x="402.20" y="263.51" width="22.28" height="10.63" fill="#e0d0e4"/>
<rect x="424.18" y="263.51" width="22.28" height="10.63" fill="#e4d4e6"/>
<rect x="446.16" y="263.51" width="22.28" height="10.63" fill="#c8c0e0"/>
<rect x="292.30" y="273.84" width="22.28" height="10.63" fill="#432f92"/>
<rect x="314.28" y="273.84" width="22.28" height="10.63" fill="#432f92"/>
<rect x="336.26" y="273.84" width="22.28" height="10.63" fill="#432f92"/>
<rect x="358.24" y="273.84" width="22.28" height="10.63" fill="#432f92"/>
<rect x="380.22" y="273.84" width="22.28" height="10.63" fill="#432f92"/>
<rect x="402.20" y="273.84" width="22.28" height="10.63" fill="#432f92"/>
<rect x="424.18" y="273.84" width="22.28" height="10.63" fill="#432f92"/>
<rect x="446.16" y="273.84" width="22.28" height="10.63" fill="#432f92"/>
<rect x="292.30" y="191.20" width="175.84" height="92.97" fill="none" stroke="#231f20" stroke-width="1"/>
<line x1="289.30" y1="196.36" x2="292.30" y2="196.36" stroke="#231f20" stroke-width="1"/>
<line x1="289.30" y1="206.69" x2="292.30" y2="206.69" stroke="#231f20" stroke-width="1"/>
<line x1="289.30" y1="217.02" x2="292.30" y2="217.02" stroke="#231f20" stroke-width="1"/>
<line x1="289.30" y1="227.35" x2="292.30" y2="227.35" stroke="#231f20" stroke-width="1"/>
<line x1="289.30" y1="237.69" x2="292.30" y2="237.69" stroke="#231f20" stroke-width="1"/>
<line x1="289.30" y1="248.01" x2="292.30" y2="248.01" stroke="#231f20" stroke-width="1"/>
<line x1="289.30" y1="258.34" x2="292.30" y2="258.34" stroke="#231f20" stroke-width="1"/>
<line x1="289.30" y1="268.67" x2="292.30" y2="268.67" stroke="#231f20" stroke-width="1"/>
<line x1="289.30" y1="279.00" x2="292.30" y2="279.00" stroke="#231f20" stroke-width="1"/>
<line x1="303.29" y1="284.17" x2="303.29" y2="286.97" stroke="#231f20" stroke-width="1"/>
<text x="303.29" y="297.30" font-size="8.3" text-anchor="middle" textLength="4.20" lengthAdjust="spacingAndGlyphs">0</text>
<line x1="325.27" y1="284.17" x2="325.27" y2="286.97" stroke="#231f20" stroke-width="1"/>
<text x="325.27" y="297.30" font-size="8.3" text-anchor="middle" textLength="14.70" lengthAdjust="spacingAndGlyphs">0.01</text>
<line x1="347.25" y1="284.17" x2="347.25" y2="286.97" stroke="#231f20" stroke-width="1"/>
<text x="347.25" y="297.30" font-size="8.3" text-anchor="middle" textLength="14.70" lengthAdjust="spacingAndGlyphs">0.04</text>
<line x1="369.23" y1="284.17" x2="369.23" y2="286.97" stroke="#231f20" stroke-width="1"/>
<text x="369.23" y="297.30" font-size="8.3" text-anchor="middle" textLength="14.70" lengthAdjust="spacingAndGlyphs">0.12</text>
<line x1="391.21" y1="284.17" x2="391.21" y2="286.97" stroke="#231f20" stroke-width="1"/>
<text x="391.21" y="297.30" font-size="8.3" text-anchor="middle" textLength="14.70" lengthAdjust="spacingAndGlyphs">0.37</text>
<line x1="413.19" y1="284.17" x2="413.19" y2="286.97" stroke="#231f20" stroke-width="1"/>
<text x="413.19" y="297.30" font-size="8.3" text-anchor="middle" textLength="14.14" lengthAdjust="spacingAndGlyphs">1.11</text>
<line x1="435.17" y1="284.17" x2="435.17" y2="286.97" stroke="#231f20" stroke-width="1"/>
<text x="435.17" y="297.30" font-size="8.3" text-anchor="middle" textLength="14.70" lengthAdjust="spacingAndGlyphs">3.33</text>
<line x1="457.15" y1="284.17" x2="457.15" y2="286.97" stroke="#231f20" stroke-width="1"/>
<text x="457.15" y="297.30" font-size="8.3" text-anchor="middle" textLength="8.40" lengthAdjust="spacingAndGlyphs">10</text>
<line x1="303.60" y1="302.40" x2="454.50" y2="302.40" stroke="#231f20" stroke-width="0.9"/>
<path d="M457.50,302.4 L452.50,300.4 L452.50,304.4 Z" stroke="#231f20" stroke-width="0.3" fill="#231f20"/>
<text x="380.30" y="314.20" font-size="9.4" text-anchor="middle" textLength="79.30" lengthAdjust="spacingAndGlyphs">[INCA033989] (µg/mL)</text>
<defs><linearGradient id="cb" x1="0" y1="0" x2="0" y2="1">
<stop offset="0" stop-color="#e41a1c"/>
<stop offset="0.1" stop-color="#e51f20"/>
<stop offset="0.25" stop-color="#e84444"/>
<stop offset="0.4" stop-color="#ef8080"/>
<stop offset="0.55" stop-color="#f6c4c4"/>
<stop offset="0.67" stop-color="#f6eef2"/>
<stop offset="0.75" stop-color="#d6cde6"/>
<stop offset="0.84" stop-color="#8f86c6"/>
<stop offset="0.92" stop-color="#4d42a0"/>
<stop offset="1" stop-color="#302984"/>
</linearGradient></defs>
<rect x="473.9" y="191.1" width="11.5" height="92.9" fill="url(#cb)" stroke="#231f20" stroke-width="0.9"/>
<line x1="473.90" y1="214.20" x2="475.80" y2="214.20" stroke="#231f20" stroke-width="0.9"/>
<line x1="483.50" y1="214.20" x2="485.40" y2="214.20" stroke="#231f20" stroke-width="0.9"/>
<text x="488.20" y="217.20" font-size="8.6">10</text>
<line x1="473.90" y1="253.70" x2="475.80" y2="253.70" stroke="#231f20" stroke-width="0.9"/>
<line x1="483.50" y1="253.70" x2="485.40" y2="253.70" stroke="#231f20" stroke-width="0.9"/>
<text x="488.20" y="256.70" font-size="8.6">5</text>
<text x="502.80" y="237.80" font-size="8.8" text-anchor="middle" textLength="41.60" lengthAdjust="spacingAndGlyphs" transform="rotate(90 502.80 237.80)">Fold-change</text>
<text x="7.50" y="335.80" font-size="12" font-weight="bold" fill="#111">D</text>
<line x1="67.50" y1="341.30" x2="67.50" y2="461.00" stroke="#231f20" stroke-width="1.1"/>
<line x1="67.00" y1="460.50" x2="245.30" y2="460.50" stroke="#231f20" stroke-width="1.1"/>
<line x1="65.00" y1="460.40" x2="67.80" y2="460.40" stroke="#231f20" stroke-width="1"/>
<text x="61.10" y="463.30" font-size="8.2" text-anchor="end" textLength="13.21" lengthAdjust="spacingAndGlyphs">−20</text>
<line x1="65.00" y1="440.80" x2="67.80" y2="440.80" stroke="#231f20" stroke-width="1"/>
<text x="61.10" y="443.70" font-size="8.2" text-anchor="end" textLength="4.33" lengthAdjust="spacingAndGlyphs">0</text>
<line x1="65.00" y1="421.20" x2="67.80" y2="421.20" stroke="#231f20" stroke-width="1"/>
<text x="61.10" y="424.10" font-size="8.2" text-anchor="end" textLength="8.66" lengthAdjust="spacingAndGlyphs">20</text>
<line x1="65.00" y1="401.60" x2="67.80" y2="401.60" stroke="#231f20" stroke-width="1"/>
<text x="61.10" y="404.50" font-size="8.2" text-anchor="end" textLength="8.66" lengthAdjust="spacingAndGlyphs">40</text>
<line x1="65.00" y1="382.00" x2="67.80" y2="382.00" stroke="#231f20" stroke-width="1"/>
<text x="61.10" y="384.90" font-size="8.2" text-anchor="end" textLength="8.66" lengthAdjust="spacingAndGlyphs">60</text>
<line x1="65.00" y1="362.40" x2="67.80" y2="362.40" stroke="#231f20" stroke-width="1"/>
<text x="61.10" y="365.30" font-size="8.2" text-anchor="end" textLength="8.66" lengthAdjust="spacingAndGlyphs">80</text>
<line x1="65.00" y1="342.80" x2="67.80" y2="342.80" stroke="#231f20" stroke-width="1"/>
<text x="61.10" y="345.70" font-size="8.2" text-anchor="end" textLength="13.00" lengthAdjust="spacingAndGlyphs">100</text>
<line x1="67.80" y1="460.40" x2="67.80" y2="463.40" stroke="#231f20" stroke-width="1"/>
<text x="67.80" y="472.60" font-size="8.2" text-anchor="middle" textLength="23.82" lengthAdjust="spacingAndGlyphs">0.0001</text>
<line x1="103.00" y1="460.40" x2="103.00" y2="463.40" stroke="#231f20" stroke-width="1"/>
<text x="103.00" y="472.60" font-size="8.2" text-anchor="middle" textLength="19.49" lengthAdjust="spacingAndGlyphs">0.001</text>
<line x1="138.20" y1="460.40" x2="138.20" y2="463.40" stroke="#231f20" stroke-width="1"/>
<text x="138.20" y="472.60" font-size="8.2" text-anchor="middle" textLength="15.16" lengthAdjust="spacingAndGlyphs">0.01</text>
<line x1="173.40" y1="460.40" x2="173.40" y2="463.40" stroke="#231f20" stroke-width="1"/>
<text x="173.40" y="472.60" font-size="8.2" text-anchor="middle" textLength="10.83" lengthAdjust="spacingAndGlyphs">0.1</text>
<line x1="208.60" y1="460.40" x2="208.60" y2="463.40" stroke="#231f20" stroke-width="1"/>
<text x="208.60" y="472.60" font-size="8.2" text-anchor="middle" textLength="4.33" lengthAdjust="spacingAndGlyphs">1</text>
<line x1="243.80" y1="460.40" x2="243.80" y2="463.40" stroke="#231f20" stroke-width="1"/>
<text x="243.80" y="472.60" font-size="8.2" text-anchor="middle" textLength="8.66" lengthAdjust="spacingAndGlyphs">10</text>
<text x="157.20" y="485.60" font-size="8.6" text-anchor="middle" textLength="66.40" lengthAdjust="spacingAndGlyphs">[Antibody] (µg/mL)</text>
<text x="41.70" y="400.10" font-size="8.8" text-anchor="middle" textLength="113.60" lengthAdjust="spacingAndGlyphs" transform="rotate(-90 41.70 400.10)">Inhibition of cell proliferation (%)</text>
<text x="74.20" y="353.10" font-size="9.3" textLength="69.50" lengthAdjust="spacingAndGlyphs">Ba/F3-TPOR/CALR</text>
<text x="144.20" y="349.80" font-size="5.7" textLength="13.90" lengthAdjust="spacingAndGlyphs">del52</text>
<path d="M74.26,435.90 L75.68,435.90 L77.11,435.90 L78.53,435.90 L79.96,435.90 L81.38,435.90 L82.81,435.91 L84.23,435.92 L85.66,435.96 L87.08,436.07 L88.51,436.38 L89.93,437.12 L91.36,438.40 L92.78,439.76 L94.21,440.61 L95.63,440.99 L97.06,441.13 L98.48,441.18 L99.90,441.19 L101.33,441.20 L102.75,441.20 L104.18,441.20 L105.60,441.20 L107.03,441.20 L108.45,441.20 L109.88,441.20 L111.30,441.20 L112.73,441.20 L114.15,441.20 L115.58,441.20 L117.00,441.20 L118.43,441.20 L119.85,441.20 L121.28,441.20 L122.70,441.20 L124.12,441.20 L125.55,441.20 L126.97,441.20 L128.40,441.20 L129.82,441.20 L131.25,441.20 L132.67,441.20 L134.10,441.20 L135.52,441.20 L136.95,441.20 L138.37,441.20 L139.80,441.20 L141.22,441.20 L142.65,441.20 L144.07,441.20 L145.50,441.20 L146.92,441.20 L148.34,441.20 L149.77,441.20 L151.19,441.20 L152.62,441.20 L154.04,441.20 L155.47,441.20 L156.89,441.20 L158.32,441.20 L159.74,441.20 L161.17,441.20 L162.59,441.20 L164.02,441.20 L165.44,441.20 L166.87,441.20 L168.29,441.20 L169.72,441.20 L171.14,441.20 L172.56,441.20 L173.99,441.20 L175.41,441.20 L176.84,441.20 L178.26,441.20 L179.69,441.20 L181.11,441.20 L182.54,441.20 L183.96,441.20 L185.39,441.20 L186.81,441.20 L188.24,441.20 L189.66,441.20 L191.09,441.20 L192.51,441.20 L193.94,441.20 L195.36,441.20 L196.78,441.20 L198.21,441.20 L199.63,441.20 L201.06,441.20 L202.48,441.20 L203.91,441.20 L205.33,441.20 L206.76,441.20 L208.18,441.20 L209.61,441.20 L211.03,441.20 L212.46,441.20 L213.88,441.20 L215.31,441.20 L216.73,441.20 L218.16,441.20 L219.58,441.20 L221.00,441.20 L222.43,441.20 L223.85,441.20 L225.28,441.20 L226.70,441.20 L228.13,441.20 L229.55,441.20 L230.98,441.20 L232.40,441.20 L233.83,441.20 L235.25,441.20 L236.68,441.20 L238.10,441.20 L239.53,441.20 L240.95,441.20 L242.38,441.20 L243.80,441.20" stroke="#b8102c" stroke-width="1.6" fill="none" stroke-dasharray="2.5,1.9"/>
<path d="M74.26,437.36 L76.41,437.93 L78.55,438.27 L80.70,438.46 L82.84,438.56 L84.99,438.62 L87.14,438.64 L89.28,438.65 L91.43,438.64 L93.57,438.62 L95.72,438.60 L97.87,438.57 L100.01,438.54 L102.16,438.49 L104.30,438.44 L106.45,438.38 L108.60,438.31 L110.74,438.23 L112.89,438.14 L115.04,438.03 L117.18,437.90 L119.33,437.75 L121.47,437.57 L123.62,437.37 L125.77,437.13 L127.91,436.86 L130.06,436.54 L132.20,436.17 L134.35,435.74 L136.50,435.24 L138.64,434.67 L140.79,434.01 L142.93,433.25 L145.08,432.38 L147.23,431.38 L149.37,430.25 L151.52,428.96 L153.66,427.50 L155.81,425.85 L157.96,424.01 L160.10,421.96 L162.25,419.70 L164.40,417.22 L166.54,414.52 L168.69,411.60 L170.83,408.49 L172.98,405.20 L175.13,401.76 L177.27,398.19 L179.42,394.56 L181.56,390.88 L183.71,387.21 L185.86,383.60 L188.00,380.07 L190.15,376.68 L192.29,373.45 L194.44,370.41 L196.59,367.57 L198.73,364.94 L200.88,362.54 L203.02,360.35 L205.17,358.38 L207.32,356.61 L209.46,355.03 L211.61,353.63 L213.75,352.40 L215.90,351.31 L218.05,350.36 L220.19,349.53 L222.34,348.81 L224.49,348.18 L226.63,347.63 L228.78,347.16 L230.92,346.76 L233.07,346.40 L235.22,346.10 L237.36,345.84 L239.51,345.62 L241.65,345.42 L243.80,345.26" stroke="#1b3561" stroke-width="1.3" fill="none"/>
<rect x="71.51" y="431.45" width="5.50" height="5.50" fill="#1c4782"/>
<rect x="92.70" y="439.15" width="5.50" height="5.50" fill="#1c4782"/>
<rect x="113.89" y="436.85" width="5.50" height="5.50" fill="#1c4782"/>
<rect x="135.09" y="434.15" width="5.50" height="5.50" fill="#1c4782"/>
<rect x="156.28" y="417.25" width="5.50" height="5.50" fill="#1c4782"/>
<rect x="177.47" y="392.65" width="5.50" height="5.50" fill="#1c4782"/>
<rect x="198.66" y="357.65" width="5.50" height="5.50" fill="#1c4782"/>
<rect x="219.86" y="346.05" width="5.50" height="5.50" fill="#1c4782"/>
<rect x="241.05" y="343.05" width="5.50" height="5.50" fill="#1c4782"/>
<circle cx="74.26" cy="436.20" r="2.90" fill="#c8102e"/>
<circle cx="95.45" cy="440.00" r="2.90" fill="#c8102e"/>
<circle cx="116.64" cy="441.50" r="2.90" fill="#c8102e"/>
<circle cx="137.84" cy="441.90" r="2.90" fill="#c8102e"/>
<circle cx="159.03" cy="439.20" r="2.90" fill="#c8102e"/>
<circle cx="180.22" cy="442.70" r="2.90" fill="#c8102e"/>
<circle cx="201.41" cy="444.60" r="2.90" fill="#c8102e"/>
<circle cx="222.61" cy="436.50" r="2.90" fill="#c8102e"/>
<circle cx="243.80" cy="441.90" r="2.90" fill="#c8102e"/>
<line x1="100.00" y1="496.00" x2="116.00" y2="496.00" stroke="#1c4782" stroke-width="1.2"/>
<rect x="105.00" y="493.30" width="5.80" height="5.80" fill="#1c4782"/>
<text x="119.20" y="498.60" font-size="8.0" textLength="44.50" lengthAdjust="spacingAndGlyphs">INCA033989</text>
<line x1="169.80" y1="496.20" x2="173.20" y2="496.20" stroke="#c8102e" stroke-width="1.3"/>
<line x1="181.60" y1="496.20" x2="185.20" y2="496.20" stroke="#c8102e" stroke-width="1.3"/>
<circle cx="177.10" cy="496.20" r="2.80" fill="#c8102e"/>
<text x="189.00" y="498.60" font-size="8.0" textLength="24.50" lengthAdjust="spacingAndGlyphs">Isotype</text>
<text x="269.10" y="336.20" font-size="12" font-weight="bold" fill="#111">E</text>
<line x1="312.50" y1="340.90" x2="312.50" y2="461.00" stroke="#231f20" stroke-width="1.1"/>
<line x1="312.00" y1="460.50" x2="489.90" y2="460.50" stroke="#231f20" stroke-width="1.1"/>
<line x1="310.10" y1="460.00" x2="312.90" y2="460.00" stroke="#231f20" stroke-width="1"/>
<text x="306.20" y="462.90" font-size="8.2" text-anchor="end" textLength="13.21" lengthAdjust="spacingAndGlyphs">−20</text>
<line x1="310.10" y1="440.40" x2="312.90" y2="440.40" stroke="#231f20" stroke-width="1"/>
<text x="306.20" y="443.30" font-size="8.2" text-anchor="end" textLength="4.33" lengthAdjust="spacingAndGlyphs">0</text>
<line x1="310.10" y1="420.80" x2="312.90" y2="420.80" stroke="#231f20" stroke-width="1"/>
<text x="306.20" y="423.70" font-size="8.2" text-anchor="end" textLength="8.66" lengthAdjust="spacingAndGlyphs">20</text>
<line x1="310.10" y1="401.20" x2="312.90" y2="401.20" stroke="#231f20" stroke-width="1"/>
<text x="306.20" y="404.10" font-size="8.2" text-anchor="end" textLength="8.66" lengthAdjust="spacingAndGlyphs">40</text>
<line x1="310.10" y1="381.60" x2="312.90" y2="381.60" stroke="#231f20" stroke-width="1"/>
<text x="306.20" y="384.50" font-size="8.2" text-anchor="end" textLength="8.66" lengthAdjust="spacingAndGlyphs">60</text>
<line x1="310.10" y1="362.00" x2="312.90" y2="362.00" stroke="#231f20" stroke-width="1"/>
<text x="306.20" y="364.90" font-size="8.2" text-anchor="end" textLength="8.66" lengthAdjust="spacingAndGlyphs">80</text>
<line x1="310.10" y1="342.40" x2="312.90" y2="342.40" stroke="#231f20" stroke-width="1"/>
<text x="306.20" y="345.30" font-size="8.2" text-anchor="end" textLength="13.00" lengthAdjust="spacingAndGlyphs">100</text>
<line x1="312.40" y1="460.00" x2="312.40" y2="463.00" stroke="#231f20" stroke-width="1"/>
<text x="312.40" y="472.60" font-size="8.2" text-anchor="middle" textLength="23.82" lengthAdjust="spacingAndGlyphs">0.0001</text>
<line x1="347.60" y1="460.00" x2="347.60" y2="463.00" stroke="#231f20" stroke-width="1"/>
<text x="347.60" y="472.60" font-size="8.2" text-anchor="middle" textLength="19.49" lengthAdjust="spacingAndGlyphs">0.001</text>
<line x1="382.80" y1="460.00" x2="382.80" y2="463.00" stroke="#231f20" stroke-width="1"/>
<text x="382.80" y="472.60" font-size="8.2" text-anchor="middle" textLength="15.16" lengthAdjust="spacingAndGlyphs">0.01</text>
<line x1="418.00" y1="460.00" x2="418.00" y2="463.00" stroke="#231f20" stroke-width="1"/>
<text x="418.00" y="472.60" font-size="8.2" text-anchor="middle" textLength="10.83" lengthAdjust="spacingAndGlyphs">0.1</text>
<line x1="453.20" y1="460.00" x2="453.20" y2="463.00" stroke="#231f20" stroke-width="1"/>
<text x="453.20" y="472.60" font-size="8.2" text-anchor="middle" textLength="4.33" lengthAdjust="spacingAndGlyphs">1</text>
<line x1="488.40" y1="460.00" x2="488.40" y2="463.00" stroke="#231f20" stroke-width="1"/>
<text x="488.40" y="472.60" font-size="8.2" text-anchor="middle" textLength="8.66" lengthAdjust="spacingAndGlyphs">10</text>
<text x="402.30" y="485.60" font-size="8.6" text-anchor="middle" textLength="66.40" lengthAdjust="spacingAndGlyphs">[Antibody] (µg/mL)</text>
<text x="286.30" y="399.90" font-size="8.8" text-anchor="middle" textLength="113.60" lengthAdjust="spacingAndGlyphs" transform="rotate(-90 286.30 399.90)">Inhibition of cell proliferation (%)</text>
<text x="319.20" y="353.10" font-size="9.3" textLength="64.60" lengthAdjust="spacingAndGlyphs">UT-7-TPOR/CALR</text>
<text x="384.60" y="349.80" font-size="5.7" textLength="14.20" lengthAdjust="spacingAndGlyphs">del52</text>
<path d="M318.86,440.17 L323.21,440.15 L327.55,440.12 L331.90,440.07 L336.25,439.98 L340.60,439.83 L344.94,439.59 L349.29,439.24 L353.64,438.77 L357.98,438.19 L362.33,437.57 L366.68,436.99 L371.03,436.53 L375.37,436.19 L379.72,435.96 L384.07,435.82 L388.41,435.73 L392.76,435.68 L397.11,435.64 L401.46,435.63 L405.80,435.61 L410.15,435.61 L414.50,435.61 L418.85,435.60 L423.19,435.60 L427.54,435.60 L431.89,435.60 L436.23,435.60 L440.58,435.60 L444.93,435.60 L449.28,435.60 L453.62,435.60 L457.97,435.60 L462.32,435.60 L466.66,435.60 L471.01,435.60 L475.36,435.60 L479.71,435.60 L484.05,435.60 L488.40,435.60" stroke="#b8102c" stroke-width="1.6" fill="none" stroke-dasharray="2.5,1.9"/>
<path d="M318.86,443.35 L321.01,443.17 L323.15,442.97 L325.30,442.76 L327.44,442.54 L329.59,442.29 L331.74,442.04 L333.88,441.76 L336.03,441.46 L338.17,441.14 L340.32,440.80 L342.47,440.43 L344.61,440.04 L346.76,439.62 L348.90,439.17 L351.05,438.69 L353.20,438.18 L355.34,437.64 L357.49,437.06 L359.64,436.44 L361.78,435.79 L363.93,435.09 L366.07,434.35 L368.22,433.57 L370.37,432.75 L372.51,431.87 L374.66,430.95 L376.80,429.98 L378.95,428.96 L381.10,427.89 L383.24,426.77 L385.39,425.60 L387.53,424.37 L389.68,423.10 L391.83,421.77 L393.97,420.40 L396.12,418.98 L398.26,417.51 L400.41,416.00 L402.56,414.45 L404.70,412.86 L406.85,411.23 L409.00,409.58 L411.14,407.90 L413.29,406.19 L415.43,404.47 L417.58,402.73 L419.73,400.99 L421.87,399.25 L424.02,397.50 L426.16,395.77 L428.31,394.04 L430.46,392.34 L432.60,390.65 L434.75,388.99 L436.89,387.36 L439.04,385.77 L441.19,384.21 L443.33,382.70 L445.48,381.22 L447.62,379.80 L449.77,378.42 L451.92,377.09 L454.06,375.81 L456.21,374.58 L458.35,373.40 L460.50,372.27 L462.65,371.19 L464.79,370.17 L466.94,369.19 L469.09,368.27 L471.23,367.39 L473.38,366.56 L475.52,365.77 L477.67,365.03 L479.82,364.33 L481.96,363.67 L484.11,363.05 L486.25,362.46 L488.40,361.91" stroke="#1b3561" stroke-width="1.3" fill="none"/>
<rect x="316.11" y="437.65" width="5.50" height="5.50" fill="#1c4782"/>
<rect x="337.30" y="440.35" width="5.50" height="5.50" fill="#1c4782"/>
<rect x="358.49" y="434.55" width="5.50" height="5.50" fill="#1c4782"/>
<rect x="379.69" y="424.95" width="5.50" height="5.50" fill="#1c4782"/>
<rect x="400.88" y="409.95" width="5.50" height="5.50" fill="#1c4782"/>
<rect x="422.07" y="392.65" width="5.50" height="5.50" fill="#1c4782"/>
<rect x="443.26" y="378.45" width="5.50" height="5.50" fill="#1c4782"/>
<rect x="464.46" y="369.55" width="5.50" height="5.50" fill="#1c4782"/>
<rect x="485.65" y="356.85" width="5.50" height="5.50" fill="#1c4782"/>
<rect x="316.11" y="437.65" width="5.50" height="5.50" fill="#c8102e"/>
<circle cx="340.05" cy="437.70" r="2.90" fill="#c8102e"/>
<circle cx="361.24" cy="440.40" r="2.90" fill="#c8102e"/>
<circle cx="382.44" cy="436.20" r="2.90" fill="#c8102e"/>
<circle cx="403.63" cy="436.50" r="2.90" fill="#c8102e"/>
<circle cx="424.82" cy="434.60" r="2.90" fill="#c8102e"/>
<circle cx="446.01" cy="437.30" r="2.90" fill="#c8102e"/>
<circle cx="467.21" cy="435.40" r="2.90" fill="#c8102e"/>
<circle cx="488.40" cy="435.00" r="2.90" fill="#c8102e"/>
<line x1="344.40" y1="496.00" x2="360.40" y2="496.00" stroke="#1c4782" stroke-width="1.2"/>
<rect x="349.40" y="493.30" width="5.80" height="5.80" fill="#1c4782"/>
<text x="363.60" y="498.60" font-size="8.0" textLength="44.50" lengthAdjust="spacingAndGlyphs">INCA033989</text>
<line x1="414.20" y1="496.20" x2="417.60" y2="496.20" stroke="#c8102e" stroke-width="1.3"/>
<line x1="426.00" y1="496.20" x2="429.60" y2="496.20" stroke="#c8102e" stroke-width="1.3"/>
<circle cx="421.50" cy="496.20" r="2.80" fill="#c8102e"/>
<text x="433.40" y="498.60" font-size="8.0" textLength="24.50" lengthAdjust="spacingAndGlyphs">Isotype</text>
<text x="111.30" y="519.40" font-size="12" font-weight="bold" fill="#111">F</text>
<line x1="155.50" y1="509.80" x2="155.50" y2="643.00" stroke="#231f20" stroke-width="1.1"/>
<line x1="151.50" y1="642.00" x2="155.10" y2="642.00" stroke="#231f20" stroke-width="1"/>
<text x="149.60" y="644.90" font-size="8.2" text-anchor="end" textLength="4.33" lengthAdjust="spacingAndGlyphs">0</text>
<line x1="151.50" y1="617.01" x2="155.10" y2="617.01" stroke="#231f20" stroke-width="1"/>
<text x="149.60" y="619.91" font-size="8.2" text-anchor="end" textLength="8.66" lengthAdjust="spacingAndGlyphs">20</text>
<line x1="151.50" y1="592.02" x2="155.10" y2="592.02" stroke="#231f20" stroke-width="1"/>
<text x="149.60" y="594.92" font-size="8.2" text-anchor="end" textLength="8.66" lengthAdjust="spacingAndGlyphs">40</text>
<line x1="151.50" y1="567.03" x2="155.10" y2="567.03" stroke="#231f20" stroke-width="1"/>
<text x="149.60" y="569.93" font-size="8.2" text-anchor="end" textLength="8.66" lengthAdjust="spacingAndGlyphs">60</text>
<line x1="151.50" y1="542.04" x2="155.10" y2="542.04" stroke="#231f20" stroke-width="1"/>
<text x="149.60" y="544.94" font-size="8.2" text-anchor="end" textLength="8.66" lengthAdjust="spacingAndGlyphs">80</text>
<line x1="151.50" y1="517.05" x2="155.10" y2="517.05" stroke="#231f20" stroke-width="1"/>
<text x="149.60" y="519.95" font-size="8.2" text-anchor="end" textLength="13.00" lengthAdjust="spacingAndGlyphs">100</text>
<text x="128.40" y="575.80" font-size="9.4" text-anchor="middle" textLength="30.00" lengthAdjust="spacingAndGlyphs" transform="rotate(-90 128.40 575.80)">Cells (%)</text>
<rect x="159.20" y="613.26" width="6.40" height="28.74" fill="#c8102e"/>
<rect x="159.20" y="519.55" width="6.40" height="93.71" fill="#3aaa35"/>
<rect x="159.20" y="517.92" width="6.40" height="1.62" fill="#f6b90f"/>
<ellipse cx="162.40" cy="518.32" rx="1.9" ry="1.0" fill="#2a2418"/>
<ellipse cx="162.40" cy="613.26" rx="1.5" ry="0.8" fill="#3a1010"/>
<rect x="169.44" y="611.39" width="6.40" height="30.61" fill="#c8102e"/>
<rect x="169.44" y="519.55" width="6.40" height="91.84" fill="#3aaa35"/>
<rect x="169.44" y="517.92" width="6.40" height="1.62" fill="#f6b90f"/>
<ellipse cx="172.64" cy="518.32" rx="1.9" ry="1.0" fill="#2a2418"/>
<ellipse cx="172.64" cy="611.39" rx="1.5" ry="0.8" fill="#3a1010"/>
<rect x="179.68" y="609.89" width="6.40" height="32.11" fill="#c8102e"/>
<rect x="179.68" y="519.55" width="6.40" height="90.34" fill="#3aaa35"/>
<rect x="179.68" y="517.92" width="6.40" height="1.62" fill="#f6b90f"/>
<ellipse cx="182.88" cy="518.32" rx="1.9" ry="1.0" fill="#2a2418"/>
<ellipse cx="182.88" cy="609.89" rx="1.5" ry="0.8" fill="#3a1010"/>
<rect x="189.92" y="610.14" width="6.40" height="31.86" fill="#c8102e"/>
<rect x="189.92" y="519.55" width="6.40" height="90.59" fill="#3aaa35"/>
<rect x="189.92" y="517.92" width="6.40" height="1.62" fill="#f6b90f"/>
<ellipse cx="193.12" cy="518.32" rx="1.9" ry="1.0" fill="#2a2418"/>
<ellipse cx="193.12" cy="610.14" rx="1.5" ry="0.8" fill="#3a1010"/>
<rect x="200.16" y="611.39" width="6.40" height="30.61" fill="#c8102e"/>
<rect x="200.16" y="519.55" width="6.40" height="91.84" fill="#3aaa35"/>
<rect x="200.16" y="517.92" width="6.40" height="1.62" fill="#f6b90f"/>
<ellipse cx="203.36" cy="518.32" rx="1.9" ry="1.0" fill="#2a2418"/>
<ellipse cx="203.36" cy="611.39" rx="1.5" ry="0.8" fill="#3a1010"/>
<rect x="210.40" y="611.39" width="6.40" height="30.61" fill="#c8102e"/>
<rect x="210.40" y="519.55" width="6.40" height="91.84" fill="#3aaa35"/>
<rect x="210.40" y="517.92" width="6.40" height="1.62" fill="#f6b90f"/>
<ellipse cx="213.60" cy="518.32" rx="1.9" ry="1.0" fill="#2a2418"/>
<ellipse cx="213.60" cy="611.39" rx="1.5" ry="0.8" fill="#3a1010"/>
<rect x="220.64" y="611.39" width="6.40" height="30.61" fill="#c8102e"/>
<rect x="220.64" y="519.55" width="6.40" height="91.84" fill="#3aaa35"/>
<rect x="220.64" y="517.92" width="6.40" height="1.62" fill="#f6b90f"/>
<ellipse cx="223.84" cy="518.32" rx="1.9" ry="1.0" fill="#2a2418"/>
<ellipse cx="223.84" cy="611.39" rx="1.5" ry="0.8" fill="#3a1010"/>
<rect x="230.88" y="611.76" width="6.40" height="30.24" fill="#c8102e"/>
<rect x="230.88" y="519.55" width="6.40" height="92.21" fill="#3aaa35"/>
<rect x="230.88" y="517.92" width="6.40" height="1.62" fill="#f6b90f"/>
<ellipse cx="234.08" cy="518.32" rx="1.9" ry="1.0" fill="#2a2418"/>
<ellipse cx="234.08" cy="611.76" rx="1.5" ry="0.8" fill="#3a1010"/>
<rect x="241.12" y="611.39" width="6.40" height="30.61" fill="#c8102e"/>
<rect x="241.12" y="519.55" width="6.40" height="91.84" fill="#3aaa35"/>
<rect x="241.12" y="517.92" width="6.40" height="1.62" fill="#f6b90f"/>
<ellipse cx="244.32" cy="518.32" rx="1.9" ry="1.0" fill="#2a2418"/>
<ellipse cx="244.32" cy="611.39" rx="1.5" ry="0.8" fill="#3a1010"/>
<rect x="251.36" y="611.76" width="6.40" height="30.24" fill="#c8102e"/>
<rect x="251.36" y="519.55" width="6.40" height="92.21" fill="#3aaa35"/>
<rect x="251.36" y="517.92" width="6.40" height="1.62" fill="#f6b90f"/>
<ellipse cx="254.56" cy="518.32" rx="1.9" ry="1.0" fill="#2a2418"/>
<ellipse cx="254.56" cy="611.76" rx="1.5" ry="0.8" fill="#3a1010"/>
<rect x="261.60" y="612.64" width="6.40" height="29.36" fill="#c8102e"/>
<rect x="261.60" y="519.55" width="6.40" height="93.09" fill="#3aaa35"/>
<rect x="261.60" y="517.92" width="6.40" height="1.62" fill="#f6b90f"/>
<ellipse cx="264.80" cy="518.32" rx="1.9" ry="1.0" fill="#2a2418"/>
<ellipse cx="264.80" cy="612.64" rx="1.5" ry="0.8" fill="#3a1010"/>
<rect x="282.80" y="620.51" width="6.40" height="21.49" fill="#c8102e"/>
<rect x="282.80" y="519.55" width="6.40" height="100.96" fill="#3aaa35"/>
<rect x="282.80" y="517.92" width="6.40" height="1.62" fill="#f6b90f"/>
<ellipse cx="286.00" cy="518.32" rx="1.9" ry="1.0" fill="#2a2418"/>
<ellipse cx="286.00" cy="620.51" rx="1.5" ry="0.8" fill="#3a1010"/>
<rect x="293.11" y="618.51" width="6.40" height="23.49" fill="#c8102e"/>
<rect x="293.11" y="519.55" width="6.40" height="98.96" fill="#3aaa35"/>
<rect x="293.11" y="517.92" width="6.40" height="1.62" fill="#f6b90f"/>
<ellipse cx="296.31" cy="518.32" rx="1.9" ry="1.0" fill="#2a2418"/>
<ellipse cx="296.31" cy="618.51" rx="1.5" ry="0.8" fill="#3a1010"/>
<rect x="303.42" y="617.63" width="6.40" height="24.37" fill="#c8102e"/>
<rect x="303.42" y="519.55" width="6.40" height="98.09" fill="#3aaa35"/>
<rect x="303.42" y="517.92" width="6.40" height="1.62" fill="#f6b90f"/>
<ellipse cx="306.62" cy="518.32" rx="1.9" ry="1.0" fill="#2a2418"/>
<ellipse cx="306.62" cy="617.63" rx="1.5" ry="0.8" fill="#3a1010"/>
<rect x="313.73" y="638.50" width="6.40" height="3.50" fill="#35a8e0"/>
<rect x="313.73" y="611.39" width="6.40" height="27.11" fill="#c8102e"/>
<rect x="313.73" y="519.55" width="6.40" height="91.84" fill="#3aaa35"/>
<rect x="313.73" y="517.92" width="6.40" height="1.62" fill="#f6b90f"/>
<ellipse cx="316.93" cy="518.32" rx="1.9" ry="1.0" fill="#2a2418"/>
<ellipse cx="316.93" cy="611.39" rx="1.5" ry="0.8" fill="#3a1010"/>
<rect x="324.04" y="619.26" width="6.40" height="22.74" fill="#35a8e0"/>
<rect x="324.04" y="587.77" width="6.40" height="31.49" fill="#c8102e"/>
<rect x="324.04" y="519.55" width="6.40" height="68.22" fill="#3aaa35"/>
<rect x="324.04" y="517.92" width="6.40" height="1.62" fill="#f6b90f"/>
<ellipse cx="327.24" cy="518.32" rx="1.9" ry="1.0" fill="#2a2418"/>
<ellipse cx="327.24" cy="587.77" rx="1.5" ry="0.8" fill="#3a1010"/>
<rect x="334.35" y="584.77" width="6.40" height="57.23" fill="#35a8e0"/>
<rect x="334.35" y="557.03" width="6.40" height="27.74" fill="#c8102e"/>
<rect x="334.35" y="519.55" width="6.40" height="37.49" fill="#3aaa35"/>
<rect x="334.35" y="517.92" width="6.40" height="1.62" fill="#f6b90f"/>
<ellipse cx="337.55" cy="518.32" rx="1.9" ry="1.0" fill="#2a2418"/>
<ellipse cx="337.55" cy="557.03" rx="1.5" ry="0.8" fill="#3a1010"/>
<rect x="344.66" y="559.66" width="6.40" height="82.34" fill="#35a8e0"/>
<rect x="344.66" y="539.17" width="6.40" height="20.49" fill="#c8102e"/>
<rect x="344.66" y="519.55" width="6.40" height="19.62" fill="#3aaa35"/>
<rect x="344.66" y="517.92" width="6.40" height="1.62" fill="#f6b90f"/>
<ellipse cx="347.86" cy="518.32" rx="1.9" ry="1.0" fill="#2a2418"/>
<ellipse cx="347.86" cy="539.17" rx="1.5" ry="0.8" fill="#3a1010"/>
<rect x="354.97" y="544.91" width="6.40" height="97.09" fill="#35a8e0"/>
<rect x="354.97" y="531.17" width="6.40" height="13.74" fill="#c8102e"/>
<rect x="354.97" y="519.55" width="6.40" height="11.62" fill="#3aaa35"/>
<rect x="354.97" y="517.92" width="6.40" height="1.62" fill="#f6b90f"/>
<ellipse cx="358.17" cy="518.32" rx="1.9" ry="1.0" fill="#2a2418"/>
<ellipse cx="358.17" cy="531.17" rx="1.5" ry="0.8" fill="#3a1010"/>
<rect x="365.28" y="535.67" width="6.40" height="106.33" fill="#35a8e0"/>
<rect x="365.28" y="525.92" width="6.40" height="9.75" fill="#c8102e"/>
<rect x="365.28" y="519.55" width="6.40" height="6.37" fill="#3aaa35"/>
<rect x="365.28" y="517.92" width="6.40" height="1.62" fill="#f6b90f"/>
<ellipse cx="368.48" cy="518.32" rx="1.9" ry="1.0" fill="#2a2418"/>
<ellipse cx="368.48" cy="525.92" rx="1.5" ry="0.8" fill="#3a1010"/>
<rect x="375.59" y="531.17" width="6.40" height="110.83" fill="#35a8e0"/>
<rect x="375.59" y="522.42" width="6.40" height="8.75" fill="#c8102e"/>
<rect x="375.59" y="519.55" width="6.40" height="2.87" fill="#3aaa35"/>
<rect x="375.59" y="517.92" width="6.40" height="1.62" fill="#f6b90f"/>
<ellipse cx="378.79" cy="518.32" rx="1.9" ry="1.0" fill="#2a2418"/>
<ellipse cx="378.79" cy="522.42" rx="1.5" ry="0.8" fill="#3a1010"/>
<rect x="385.90" y="533.04" width="6.40" height="108.96" fill="#35a8e0"/>
<rect x="385.90" y="525.30" width="6.40" height="7.75" fill="#c8102e"/>
<rect x="385.90" y="519.55" width="6.40" height="5.75" fill="#3aaa35"/>
<rect x="385.90" y="517.92" width="6.40" height="1.62" fill="#f6b90f"/>
<ellipse cx="389.10" cy="518.32" rx="1.9" ry="1.0" fill="#2a2418"/>
<ellipse cx="389.10" cy="525.30" rx="1.5" ry="0.8" fill="#3a1010"/>
<line x1="155.00" y1="642.50" x2="397.00" y2="642.50" stroke="#231f20" stroke-width="1.2"/>
<line x1="275.40" y1="642.00" x2="275.40" y2="644.50" stroke="#231f20" stroke-width="1"/>
<line x1="162.40" y1="642.00" x2="162.40" y2="644.50" stroke="#231f20" stroke-width="1"/>
<text x="165.30" y="648.80" font-size="8.8" text-anchor="end" textLength="40.44" lengthAdjust="spacingAndGlyphs" transform="rotate(-90 165.30 648.80)">IgG 100 µg</text>
<line x1="172.64" y1="642.00" x2="172.64" y2="644.50" stroke="#231f20" stroke-width="1"/>
<text x="175.54" y="648.80" font-size="8.8" text-anchor="end" textLength="31.85" lengthAdjust="spacingAndGlyphs" transform="rotate(-90 175.54 648.80)">0.012 µg</text>
<line x1="182.88" y1="642.00" x2="182.88" y2="644.50" stroke="#231f20" stroke-width="1"/>
<text x="185.78" y="648.80" font-size="8.8" text-anchor="end" textLength="27.32" lengthAdjust="spacingAndGlyphs" transform="rotate(-90 185.78 648.80)">0.04 µg</text>
<line x1="193.12" y1="642.00" x2="193.12" y2="644.50" stroke="#231f20" stroke-width="1"/>
<text x="196.02" y="648.80" font-size="8.8" text-anchor="end" textLength="27.32" lengthAdjust="spacingAndGlyphs" transform="rotate(-90 196.02 648.80)">0.12 µg</text>
<line x1="203.36" y1="642.00" x2="203.36" y2="644.50" stroke="#231f20" stroke-width="1"/>
<text x="206.26" y="648.80" font-size="8.8" text-anchor="end" textLength="27.32" lengthAdjust="spacingAndGlyphs" transform="rotate(-90 206.26 648.80)">0.37 µg</text>
<line x1="213.60" y1="642.00" x2="213.60" y2="644.50" stroke="#231f20" stroke-width="1"/>
<text x="216.50" y="648.80" font-size="8.8" text-anchor="end" textLength="16.01" lengthAdjust="spacingAndGlyphs" transform="rotate(-90 216.50 648.80)">1 µg</text>
<line x1="223.84" y1="642.00" x2="223.84" y2="644.50" stroke="#231f20" stroke-width="1"/>
<text x="226.74" y="648.80" font-size="8.8" text-anchor="end" textLength="16.01" lengthAdjust="spacingAndGlyphs" transform="rotate(-90 226.74 648.80)">3 µg</text>
<line x1="234.08" y1="642.00" x2="234.08" y2="644.50" stroke="#231f20" stroke-width="1"/>
<text x="236.98" y="648.80" font-size="8.8" text-anchor="end" textLength="20.53" lengthAdjust="spacingAndGlyphs" transform="rotate(-90 236.98 648.80)">10 µg</text>
<line x1="244.32" y1="642.00" x2="244.32" y2="644.50" stroke="#231f20" stroke-width="1"/>
<text x="247.22" y="648.80" font-size="8.8" text-anchor="end" textLength="20.53" lengthAdjust="spacingAndGlyphs" transform="rotate(-90 247.22 648.80)">33 µg</text>
<line x1="254.56" y1="642.00" x2="254.56" y2="644.50" stroke="#231f20" stroke-width="1"/>
<text x="257.46" y="648.80" font-size="8.8" text-anchor="end" textLength="20.53" lengthAdjust="spacingAndGlyphs" transform="rotate(-90 257.46 648.80)">66 µg</text>
<line x1="264.80" y1="642.00" x2="264.80" y2="644.50" stroke="#231f20" stroke-width="1"/>
<text x="267.70" y="648.80" font-size="8.8" text-anchor="end" textLength="25.06" lengthAdjust="spacingAndGlyphs" transform="rotate(-90 267.70 648.80)">100 µg</text>
<line x1="286.00" y1="642.00" x2="286.00" y2="644.50" stroke="#231f20" stroke-width="1"/>
<text x="288.90" y="648.80" font-size="8.8" text-anchor="end" textLength="40.44" lengthAdjust="spacingAndGlyphs" transform="rotate(-90 288.90 648.80)">IgG 100 µg</text>
<line x1="296.31" y1="642.00" x2="296.31" y2="644.50" stroke="#231f20" stroke-width="1"/>
<text x="299.21" y="648.80" font-size="8.8" text-anchor="end" textLength="31.85" lengthAdjust="spacingAndGlyphs" transform="rotate(-90 299.21 648.80)">0.012 µg</text>
<line x1="306.62" y1="642.00" x2="306.62" y2="644.50" stroke="#231f20" stroke-width="1"/>
<text x="309.52" y="648.80" font-size="8.8" text-anchor="end" textLength="27.32" lengthAdjust="spacingAndGlyphs" transform="rotate(-90 309.52 648.80)">0.04 µg</text>
<line x1="316.93" y1="642.00" x2="316.93" y2="644.50" stroke="#231f20" stroke-width="1"/>
<text x="319.83" y="648.80" font-size="8.8" text-anchor="end" textLength="27.32" lengthAdjust="spacingAndGlyphs" transform="rotate(-90 319.83 648.80)">0.12 µg</text>
<line x1="327.24" y1="642.00" x2="327.24" y2="644.50" stroke="#231f20" stroke-width="1"/>
<text x="330.14" y="648.80" font-size="8.8" text-anchor="end" textLength="27.32" lengthAdjust="spacingAndGlyphs" transform="rotate(-90 330.14 648.80)">0.37 µg</text>
<line x1="337.55" y1="642.00" x2="337.55" y2="644.50" stroke="#231f20" stroke-width="1"/>
<text x="340.45" y="648.80" font-size="8.8" text-anchor="end" textLength="16.01" lengthAdjust="spacingAndGlyphs" transform="rotate(-90 340.45 648.80)">1 µg</text>
<line x1="347.86" y1="642.00" x2="347.86" y2="644.50" stroke="#231f20" stroke-width="1"/>
<text x="350.76" y="648.80" font-size="8.8" text-anchor="end" textLength="16.01" lengthAdjust="spacingAndGlyphs" transform="rotate(-90 350.76 648.80)">3 µg</text>
<line x1="358.17" y1="642.00" x2="358.17" y2="644.50" stroke="#231f20" stroke-width="1"/>
<text x="361.07" y="648.80" font-size="8.8" text-anchor="end" textLength="20.53" lengthAdjust="spacingAndGlyphs" transform="rotate(-90 361.07 648.80)">10 µg</text>
<line x1="368.48" y1="642.00" x2="368.48" y2="644.50" stroke="#231f20" stroke-width="1"/>
<text x="371.38" y="648.80" font-size="8.8" text-anchor="end" textLength="20.53" lengthAdjust="spacingAndGlyphs" transform="rotate(-90 371.38 648.80)">33 µg</text>
<line x1="378.79" y1="642.00" x2="378.79" y2="644.50" stroke="#231f20" stroke-width="1"/>
<text x="381.69" y="648.80" font-size="8.8" text-anchor="end" textLength="20.53" lengthAdjust="spacingAndGlyphs" transform="rotate(-90 381.69 648.80)">66 µg</text>
<line x1="389.10" y1="642.00" x2="389.10" y2="644.50" stroke="#231f20" stroke-width="1"/>
<text x="392.00" y="648.80" font-size="8.8" text-anchor="end" textLength="25.06" lengthAdjust="spacingAndGlyphs" transform="rotate(-90 392.00 648.80)">100 µg</text>
<line x1="158.30" y1="693.10" x2="270.80" y2="693.10" stroke="#231f20" stroke-width="1"/>
<line x1="281.50" y1="693.10" x2="392.50" y2="693.10" stroke="#231f20" stroke-width="1"/>
<text x="214.40" y="705.00" font-size="9.4" text-anchor="middle" textLength="42.70" lengthAdjust="spacingAndGlyphs">JAK2 V617F</text>
<text x="337.50" y="704.60" font-size="9.2" text-anchor="middle" textLength="31.20" lengthAdjust="spacingAndGlyphs">mutCALR</text>
<text x="403.80" y="555.20" font-size="8.2" textLength="43.80" lengthAdjust="spacingAndGlyphs">INCA033989</text>
<rect x="403.80" y="561.40" width="6.20" height="6.20" fill="#35a8e0"/>
<text x="413.00" y="566.80" font-size="8.4" textLength="18.07" lengthAdjust="spacingAndGlyphs">Dead</text>
<rect x="403.80" y="572.83" width="6.20" height="6.20" fill="#c8102e"/>
<text x="413.00" y="578.23" font-size="8.4" textLength="22.27" lengthAdjust="spacingAndGlyphs">G0/G1</text>
<rect x="403.80" y="584.26" width="6.20" height="6.20" fill="#3aaa35"/>
<text x="413.00" y="589.66" font-size="8.4" textLength="5.04" lengthAdjust="spacingAndGlyphs">S</text>
<rect x="403.80" y="595.69" width="6.20" height="6.20" fill="#f6b90f"/>
<text x="413.00" y="601.09" font-size="8.4" textLength="18.48" lengthAdjust="spacingAndGlyphs">G2/M</text>
</svg>
</body></html>
